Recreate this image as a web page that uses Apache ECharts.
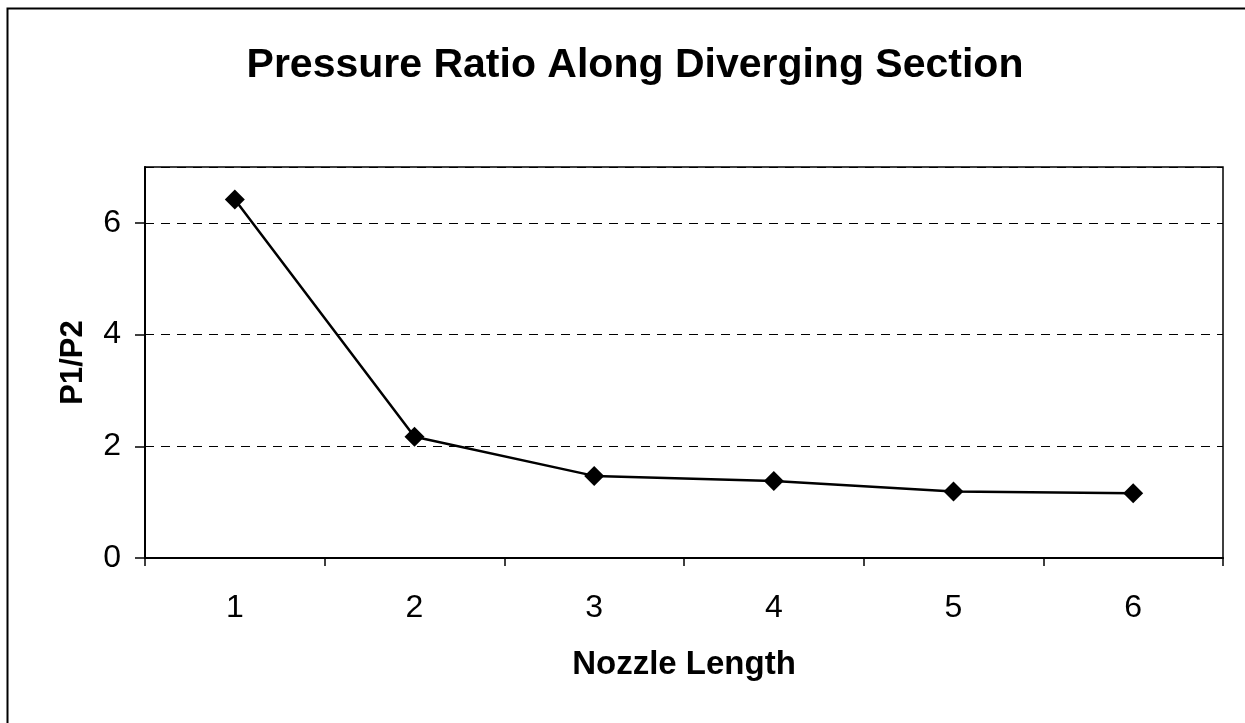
<!DOCTYPE html>
<html>
<head>
<meta charset="utf-8">
<script src="https://cdn.jsdelivr.net/npm/echarts@6/dist/echarts.min.js"></script>
<style>
html,body{margin:0;padding:0;background:#fff;}
#chart{width:1245px;height:723px;}
</style>
</head>
<body>
<div id="chart"></div>
<script>
const titleText = "Pressure Ratio Along Diverging Section";
const xAxisName = "Nozzle Length";
const yAxisName = "P1/P2";
const categories = ["1", "2", "3", "4", "5", "6"];
const pressureRatio = [6.42, 2.17, 1.47, 1.38, 1.19, 1.16];

const chart = echarts.init(document.getElementById('chart'), null, {renderer: 'canvas'});
const font = "'Liberation Sans', Arial, sans-serif";
chart.setOption({
  backgroundColor: '#ffffff',
  animation: false,
  graphic: [{
    type: 'rect',
    shape: {x: 7.5, y: 8.5, width: 1300, height: 800},
    style: {fill: 'none', stroke: '#000', lineWidth: 2},
    silent: true
  }],
  title: {
    text: titleText,
    left: 630, top: 40, textAlign: 'center',
    textStyle: {fontFamily: font, fontSize: 41, fontWeight: 'bold', color: '#000'}
  },
  grid: {left: 145, top: 167, right: 22, bottom: 165, show: true, borderColor: '#000', borderWidth: 1.5, backgroundColor: 'transparent'},
  xAxis: {
    type: 'category',
    data: categories,
    boundaryGap: true,
    name: xAxisName,
    nameLocation: 'middle',
    nameGap: 90,
    nameTextStyle: {fontFamily: font, fontSize: 33, fontWeight: 'bold', color: '#000'},
    axisLine: {lineStyle: {color: '#000', width: 2}},
    axisTick: {show: true, length: 8, lineStyle: {color: '#000', width: 1.5}},
    axisLabel: {fontFamily: font, fontSize: 32, color: '#000', margin: 34},
    splitLine: {show: false}
  },
  yAxis: {
    type: 'value',
    min: 0, max: 7, interval: 2,
    name: yAxisName,
    nameLocation: 'middle',
    nameGap: 56,
    nameRotate: 90,
    nameTextStyle: {fontFamily: font, fontSize: 31, fontWeight: 'bold', color: '#000'},
    axisLine: {show: true, lineStyle: {color: '#000', width: 2}},
    axisTick: {show: true, length: 10, lineStyle: {color: '#000', width: 1.5}},
    axisLabel: {fontFamily: font, fontSize: 32, color: '#000', margin: 24, showMaxLabel: false},
    splitLine: {show: true, lineStyle: {color: '#000', width: 1, type: [9, 7]}}
  },
  series: [{
    type: 'line',
    data: pressureRatio,
    symbol: 'diamond',
    symbolSize: 20,
    itemStyle: {color: '#000'},
    lineStyle: {color: '#000', width: 2.5}
  }]
});
</script>
</body>
</html>
